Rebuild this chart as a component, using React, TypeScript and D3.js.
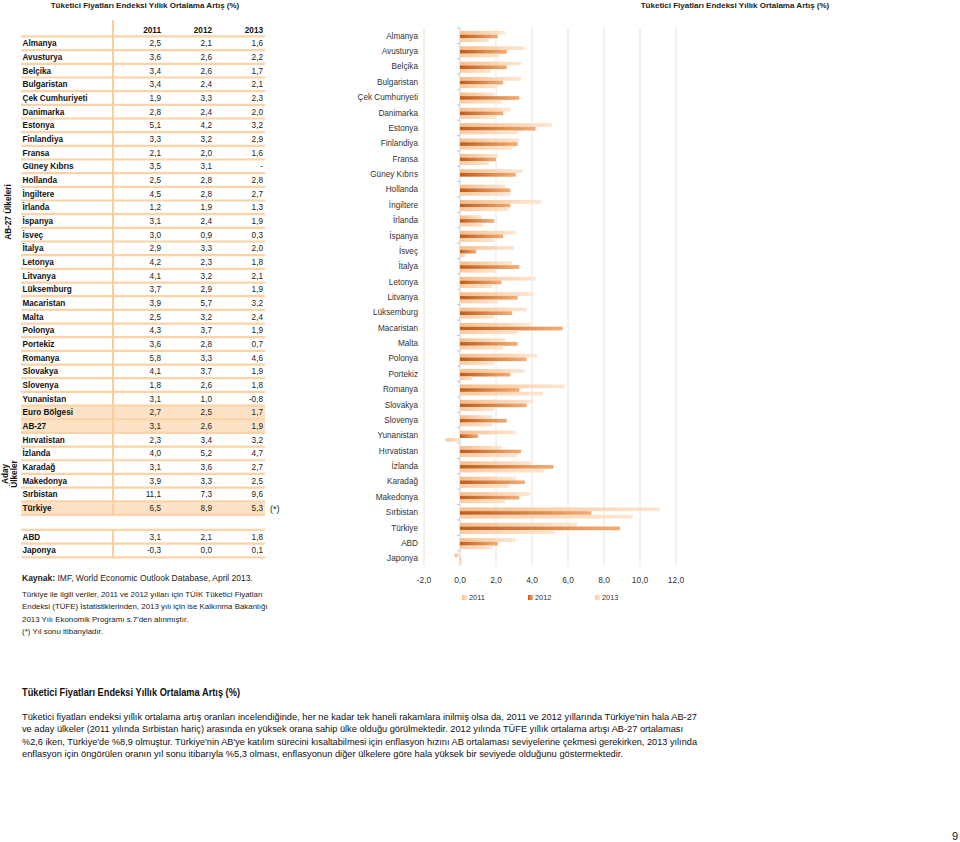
import React from "react";
import * as d3 from "d3";

const tableTitle = "Tüketici Fiyatları Endeksi Yıllık Ortalama Artış (%)";
const years = ["2011", "2012", "2013"];
const countries = [
  "Almanya", "Avusturya", "Belçika", "Bulgaristan", "Çek Cumhuriyeti", "Danimarka", "Estonya",
  "Finlandiya", "Fransa", "Güney Kıbrıs", "Hollanda", "İngiltere", "İrlanda", "İspanya", "İsveç",
  "İtalya", "Letonya", "Litvanya", "Lüksemburg", "Macaristan", "Malta", "Polonya", "Portekiz",
  "Romanya", "Slovakya", "Slovenya", "Yunanistan", "Euro Bölgesi", "AB-27", "Hırvatistan", "İzlanda",
  "Karadağ", "Makedonya", "Sırbistan", "Türkiye", "ABD", "Japonya",
];
const v2011: (number | null)[] = [2.5, 3.6, 3.4, 3.4, 1.9, 2.8, 5.1, 3.3, 2.1, 3.5, 2.5, 4.5, 1.2, 3.1, 3.0, 2.9, 4.2, 4.1, 3.7, 3.9, 2.5, 4.3, 3.6, 5.8, 4.1, 1.8, 3.1, 2.7, 3.1, 2.3, 4.0, 3.1, 3.9, 11.1, 6.5, 3.1, -0.3];
const v2012: (number | null)[] = [2.1, 2.6, 2.6, 2.4, 3.3, 2.4, 4.2, 3.2, 2.0, 3.1, 2.8, 2.8, 1.9, 2.4, 0.9, 3.3, 2.3, 3.2, 2.9, 5.7, 3.2, 3.7, 2.8, 3.3, 3.7, 2.6, 1.0, 2.5, 2.6, 3.4, 5.2, 3.6, 3.3, 7.3, 8.9, 2.1, 0.0];
const v2013: (number | null)[] = [1.6, 2.2, 1.7, 2.1, 2.3, 2.0, 3.2, 2.9, 1.6, null, 2.8, 2.7, 1.3, 1.9, 0.3, 2.0, 1.8, 2.1, 1.9, 3.2, 2.4, 1.9, 0.7, 4.6, 1.9, 1.8, -0.8, 1.7, 1.9, 3.2, 4.7, 2.7, 2.5, 9.6, 5.3, 1.8, 0.1];
const highlighted = ["Euro Bölgesi", "AB-27", "Türkiye"];
const chartExcluded = ["Euro Bölgesi", "AB-27"];
const xTicks = [-2, 0, 2, 4, 6, 8, 10, 12];
const footnotes = [
  "Türkiye ile ilgili veriler, 2011 ve 2012 yılları için TÜİK Tüketici Fiyatları",
  "Endeksi (TÜFE) İstatistiklerinden, 2013 yılı için ise Kalkınma Bakanlığı",
  "2013 Yılı Ekonomik Programı s.7'den alınmıştır.",
  "(*) Yıl sonu itibanyladır.",
];
const paragraph = [
  "Tüketici fiyatları endeksi yıllık ortalama artış oranları incelendiğinde, her ne kadar tek haneli rakamlara inilmiş olsa da, 2011 ve 2012 yıllarında Türkiye'nin  hala AB-27",
  "ve aday ülkeler (2011 yılında Sırbistan hariç) arasında en yüksek orana sahip ülke olduğu görülmektedir. 2012 yılında TÜFE yıllık ortalama artışı AB-27 ortalaması",
  "%2,6 iken, Türkiye'de %8,9 olmuştur. Türkiye'nin AB'ye katılım sürecini kısaltabilmesi için enflasyon hızını AB ortalaması seviyelerine çekmesi gerekirken, 2013 yılında",
  "enflasyon için öngörülen oranın yıl sonu itibarıyla %5,3 olması, enflasyonun diğer ülkelere göre hala yüksek bir seviyede olduğunu göstermektedir.",
];
const paragraphEnds = [697, 683, 697, 623];

const fmt = (v: number | null) =>
  v === null ? "-" : d3.format(".1f")(v).replace(".", ",").replace("\u2212", "-");
const FONT = "'Liberation Sans', Arial, sans-serif";

export default function App() {
  // ---------- table ----------
  const rowStep = 13.67;
  const rowPos = (i: number) => (i < 35 ? i : i + 1.1);
  const rowY = d3.scaleLinear().domain([0, 1]).range([43.3, 43.3 + rowStep]);
  const tblL = 21, tblR = 265, divX = 113;
  const colRight = [161, 212, 263];
  const series = [v2011, v2012, v2013];

  // ---------- chart ----------
  const chartIdx = countries.map((c, i) => i).filter((i) => !chartExcluded.includes(countries[i]));
  const chartCats = chartIdx.map((i) => countries[i]);
  const x = d3.scaleLinear().domain([-2, 12]).range([424, 676]);
  const y = d3.scaleBand().domain(chartCats).range([28, 566]);
  const bh = 3.7;
  const gradIds = ["g2011", "g2012", "g2013"];

  return (
    <svg width={960} height={842} style={{ position: "absolute", left: 0, top: 0, background: "#fff" }} fontFamily={FONT}>
      <defs>
        <linearGradient id="g2011" x1="0" x2="1" y1="0" y2="0">
          <stop offset="0" stopColor="#f7bd8b" />
          <stop offset="1" stopColor="#fde6d2" />
        </linearGradient>
        <linearGradient id="g2012" x1="0" x2="1" y1="0" y2="0">
          <stop offset="0" stopColor="#bf5d1c" />
          <stop offset="1" stopColor="#f4ad74" />
        </linearGradient>
        <linearGradient id="g2013" x1="0" x2="1" y1="0" y2="0">
          <stop offset="0" stopColor="#f9cba2" />
          <stop offset="1" stopColor="#fde5cf" />
        </linearGradient>
      </defs>

      {/* ===== Table ===== */}
      <text x={145} y={8} textAnchor="middle" fontSize={8} fontWeight="bold" fill="#222">{tableTitle}</text>
      {countries.map((c, i) =>
        highlighted.includes(c) ? (
          <rect key={"hl" + c} x={tblL} y={rowY(rowPos(i)) - rowStep / 2} width={tblR - tblL} height={rowStep} fill="#fde2c6" />
        ) : null
      )}
      <line x1={tblL} x2={tblR} y1={rowY(-0.5)} y2={rowY(-0.5)} stroke="#fbd3a6" strokeWidth={2.2} />
      {countries.map((c, i) => (
        <line key={"sep" + c} x1={tblL} x2={tblR} y1={rowY(rowPos(i) + 0.5)} y2={rowY(rowPos(i) + 0.5)} stroke="#fbd3a6" strokeWidth={2.2} />
      ))}
      <line x1={tblL} x2={tblR} y1={rowY(rowPos(35) - 0.5)} y2={rowY(rowPos(35) - 0.5)} stroke="#fbd3a6" strokeWidth={2.2} />
      <line x1={divX} x2={divX} y1={20} y2={rowY(34.5) + 1} stroke="#fbcf9c" strokeWidth={2} />
      <line x1={divX} x2={divX} y1={rowY(rowPos(35) - 0.5) - 1} y2={rowY(rowPos(36) + 0.5) + 1} stroke="#fbcf9c" strokeWidth={2} />
      {years.map((yr, j) => (
        <text key={"h" + yr} x={colRight[j]} y={rowY(-1) + 3} textAnchor="end" fontSize={8.2} fontWeight="bold" fill="#111">{yr}</text>
      ))}
      {countries.map((c, i) => (
        <g key={"row" + c}>
          <text x={22.5} y={rowY(rowPos(i)) + 3} fontSize={8.2} fontWeight="bold" fill="#111">{c}</text>
          {series.map((s, j) => (
            <text key={j} x={colRight[j]} y={rowY(rowPos(i)) + 3} textAnchor="end" fontSize={8.2} fill="#222">{fmt(s[i])}</text>
          ))}
        </g>
      ))}
      <text x={270} y={rowY(34) + 3.5} fontSize={9} fill="#222">(*)</text>

      {/* side labels */}
      <text transform="translate(11,212) rotate(-90)" textAnchor="middle" fontSize={8.2} fontWeight="bold" fill="#111">AB-27 Ülkeleri</text>
      <text transform="translate(8,474) rotate(-90)" textAnchor="middle" fontSize={8.2} fontWeight="bold" fill="#111">Aday</text>
      <text transform="translate(17,474) rotate(-90)" textAnchor="middle" fontSize={8.2} fontWeight="bold" fill="#111">Ülkeler</text>

      {/* footnotes */}
      <text x={22} y={581} fontSize={8.5} fill="#222">
        <tspan fontWeight="bold">Kaynak:</tspan> IMF, World Economic Outlook Database, April 2013.
      </text>
      {footnotes.map((f, i) => (
        <text key={"fn" + i} x={22} y={597 + i * 12.4} fontSize={7.9} fill="#222">{f}</text>
      ))}

      {/* ===== Chart ===== */}
      <text x={735} y={8} textAnchor="middle" fontSize={8} fontWeight="bold" fill="#222">{tableTitle}</text>
      {xTicks.map((t) => (
        <line key={"gl" + t} x1={x(t)} x2={x(t)} y1={28} y2={566} stroke={t === 0 ? "#c9d2df" : "#ede4d6"} strokeWidth={1} />
      ))}
      {chartCats.map((c) => (
        <line key={"tk" + c} x1={x(0) - 3} x2={x(0)} y1={y(c)!} y2={y(c)!} stroke="#b9c7da" strokeWidth={1} />
      ))}
      {chartIdx.map((i) => {
        const c = countries[i];
        const cy = y(c)! + y.bandwidth() / 2 + 0.8;
        return (
          <g key={"bars" + c}>
            {series.map((s, j) => {
              const v = s[i];
              if (v === null) return null;
              const x0 = Math.min(x(0), x(v));
              const w = Math.abs(x(v) - x(0));
              return <rect key={j} x={x0} y={cy - 1.5 * bh + j * bh} width={Math.max(w, 0.6)} height={bh} fill={`url(#${gradIds[j]})`} />;
            })}
          </g>
        );
      })}
      {chartCats.map((c) => (
        <text key={"cl" + c} x={418} y={y(c)! + y.bandwidth() / 2 + 3} textAnchor="end" fontSize={8.2} fill="#333">{c}</text>
      ))}
      {xTicks.map((t) => (
        <text key={"xl" + t} x={x(t)} y={583} textAnchor="middle" fontSize={8.4} fill="#333">{fmt(t)}</text>
      ))}
      {years.map((yr, j) => (
        <g key={"lg" + yr} transform={`translate(${[462, 528, 595][j]},595)`}>
          <rect x={0} y={0} width={5} height={5} fill={`url(#${gradIds[j]})`} />
          <text x={7} y={5.3} fontSize={7.4} fill="#333">{yr}</text>
        </g>
      ))}

      {/* ===== Bottom text ===== */}
      <text x={22} y={696} fontSize={10} fontWeight="bold" fill="#111" textLength={218} lengthAdjust="spacingAndGlyphs">{tableTitle}</text>
      {paragraph.map((p, i) => (
        <text key={"p" + i} x={22} y={719.5 + i * 12.6} fontSize={9.6} fill="#111" textLength={paragraphEnds[i] - 22} lengthAdjust="spacingAndGlyphs">{p}</text>
      ))}
      <text x={955} y={840} textAnchor="middle" fontSize={11} fill="#111">9</text>
    </svg>
  );
}
